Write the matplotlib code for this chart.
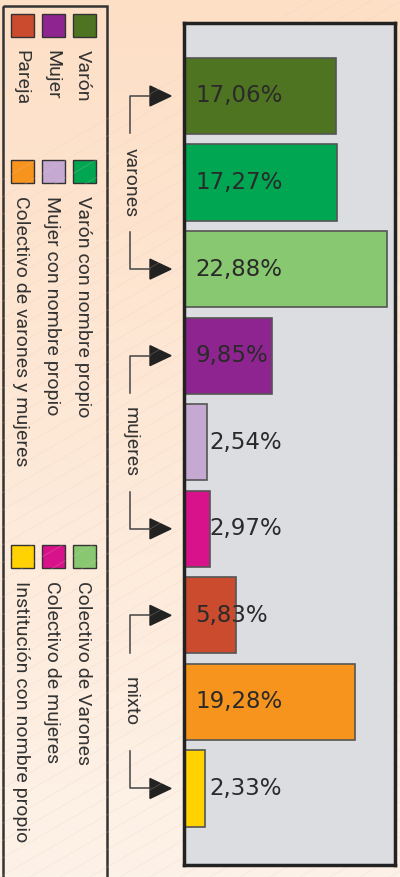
import matplotlib
matplotlib.use('Agg')
import matplotlib.pyplot as plt
import matplotlib.transforms as mtransforms
from matplotlib.patches import Rectangle, Polygon
from matplotlib.colors import LinearSegmentedColormap
import numpy as np

# datos
categorias = ['Varón', 'Varón con nombre propio', 'Colectivo de Varones',
              'Mujer', 'Mujer con nombre propio', 'Colectivo de mujeres',
              'Pareja', 'Colectivo de varones y mujeres', 'Institución con nombre propio']
valores = [17.06, 17.27, 22.88, 9.85, 2.54, 2.97, 5.83, 19.28, 2.33]
colores = ['#4e7421', '#00a651', '#88c870',
           '#8e2490', '#c5a9d2', '#d8128b',
           '#ca4b2e', '#f7941e', '#ffd200']
grupos = ['varones', 'mujeres', 'mixto']
etiquetas = [f'{v:.2f}%'.replace('.', ',') for v in valores]

fig = plt.figure(figsize=(4, 8.77), dpi=100)

# fondo (coordenadas en pixeles)
bg = fig.add_axes([0, 0, 1, 1], zorder=0)
cmap = LinearSegmentedColormap.from_list('fondo', ['#fddfc6', '#fdf2e8'])
bg.imshow(np.linspace(0, 1, 256)[:, None], extent=(0, 400, 877, 0),
          cmap=cmap, aspect='auto')
for k in range(-1200, 420, 30):
    bg.plot([k, k + 1600], [877, 877 - 1600 * 0.58], color='#e9cbb6',
            lw=0.5, alpha=0.3)
bg.set_xlim(0, 400)
bg.set_ylim(877, 0)
bg.axis('off')

# barras
ax = fig.add_axes([184 / 400, 1 - 865 / 877, 211 / 400, 842 / 877], zorder=1)
ax.set_facecolor('#dcdde0')
ax.barh(range(len(valores)), valores, height=0.88, color=colores,
        edgecolor='#555555', linewidth=1.2)
for i, (v, t) in enumerate(zip(valores, etiquetas)):
    x = 1.3 if v > 4 else 2.9
    ax.text(x, i, t, ha='left', va='center', fontsize=16.5, color='#2a2a2a')
ax.set_xlim(0, 23.75)
ax.set_ylim(8.884, -0.843)
ax.set_xticks([])
ax.set_yticks([])
for s in ax.spines.values():
    s.set_linewidth(2.5)
    s.set_color('#222222')

# leyenda
bg.add_patch(Rectangle((3, 6), 104, 880, fill=False, edgecolor='#333333',
                       lw=1.8, clip_on=False))
col_x = [84, 53, 22]
fila_y = [14, 160, 545]
for i, (c, nom) in enumerate(zip(colores, categorias)):
    x = col_x[i // 3]
    y = fila_y[i % 3]
    bg.add_patch(Rectangle((x - 11.5, y), 23, 23, facecolor=c,
                           edgecolor='#333333', lw=1))
    bg.text(x - 1, y + 36, nom, rotation=270, ha='center', va='top',
            fontsize=14, family='Roboto', color='#333333')

# grupos con flechas
trans = mtransforms.blended_transform_factory(bg.transData, ax.transData)
for g, nombre in enumerate(grupos):
    i0, i1 = 3 * g, 3 * g + 2
    bg.text(131, i0 + 1, nombre, transform=trans, rotation=270,
            ha='center', va='center', fontsize=14, family='Roboto',
            color='#333333')
    for yc, dy in [(i0, 0.43), (i1, -0.43)]:
        bg.plot([130, 130, 150], [yc + dy, yc, yc], transform=trans,
                color='#444444', lw=1.1, clip_on=False)
        bg.add_patch(Polygon([(150, yc - 0.115), (171, yc), (150, yc + 0.115)],
                             closed=True, transform=trans, color='#222222',
                             clip_on=False))

fig.savefig('out.png', dpi=100)
